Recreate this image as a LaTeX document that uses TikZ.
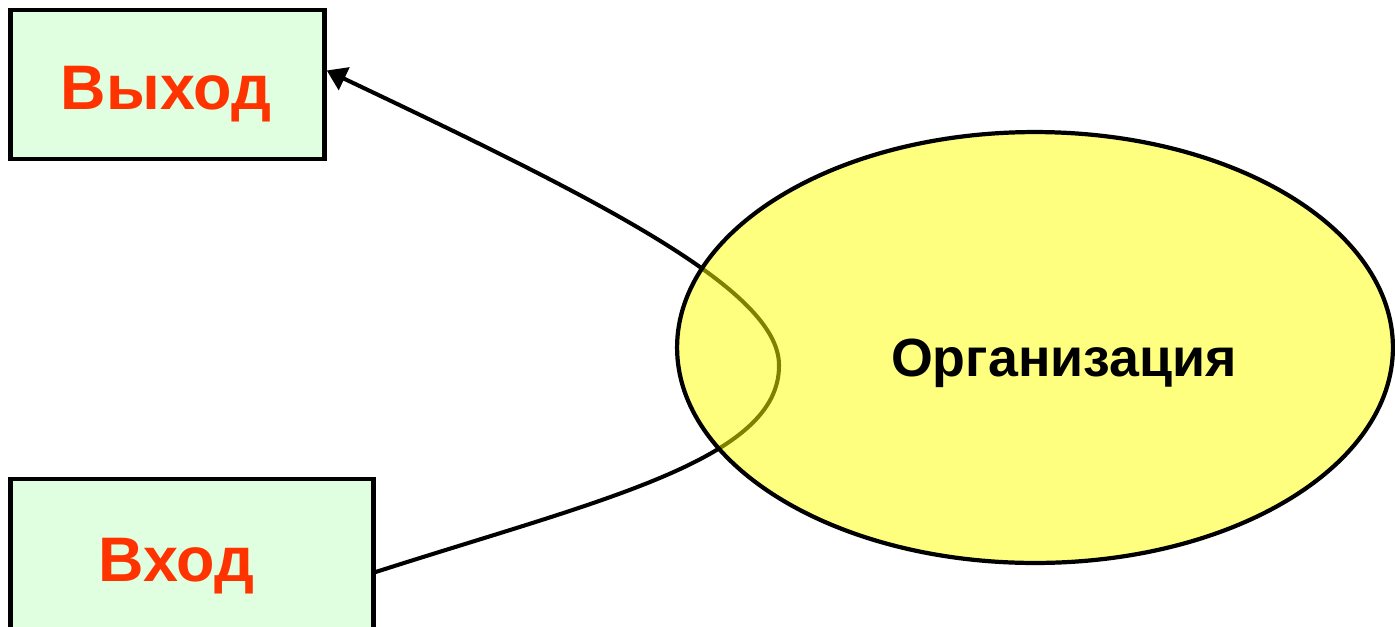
\documentclass[tikz,border=0pt]{standalone}
\usepackage{fontspec}
\setmainfont{Liberation Sans}
\usetikzlibrary{shapes.geometric,arrows.meta}
\definecolor{boxgreen}{HTML}{E0FFE0}
\definecolor{labelred}{HTML}{FF3300}
\definecolor{orgyellow}{HTML}{FFFF00}
\tikzset{
  iobox/.style={draw=black, line width=2.5pt, fill=boxgreen, rectangle, inner sep=0pt},
  iolabel/.style={text=labelred, font=\bfseries\fontsize{35.8}{40}\selectfont, anchor=base, inner sep=0pt},
  orgshape/.style={draw=black, line width=2.4pt, fill=orgyellow, fill opacity=0.5, draw opacity=1, ellipse, inner sep=0pt},
  orglabel/.style={text=black, font=\bfseries\fontsize{30.6}{36}\selectfont, anchor=base, inner sep=0pt},
  flow/.style={draw=black, line width=2.3pt, -{Triangle[length=11pt,width=14pt]}}
}
\begin{document}
\begin{tikzpicture}[x=0.02cm, y=-0.02cm]
\useasboundingbox (0,0) rectangle (1395,626);
\clip (0,0) rectangle (1395,626);
% boxes
\node[iobox, minimum width=6.28cm, minimum height=2.986cm] (out) at (167.6,84.4) {};
\node[iobox, minimum width=7.26cm, minimum height=3.72cm] (in) at (192,572) {};
\node[iolabel] (outtxt) at (166,109) {Выход};
\node[iolabel] (intxt) at (176.5,581) {Вход};
% connector
\draw[flow] (in.east) .. controls (600,500) and (780,460) .. (779,365)
            .. controls (779,290) and (600,200) .. (out.5.2);
% organisation
\node[orgshape, minimum width=14.32cm, minimum height=8.62cm] (org) at (1035,347.5) {};
\node[orglabel] (orgtxt) at (1064,376) {Организация};
\end{tikzpicture}
\end{document}
